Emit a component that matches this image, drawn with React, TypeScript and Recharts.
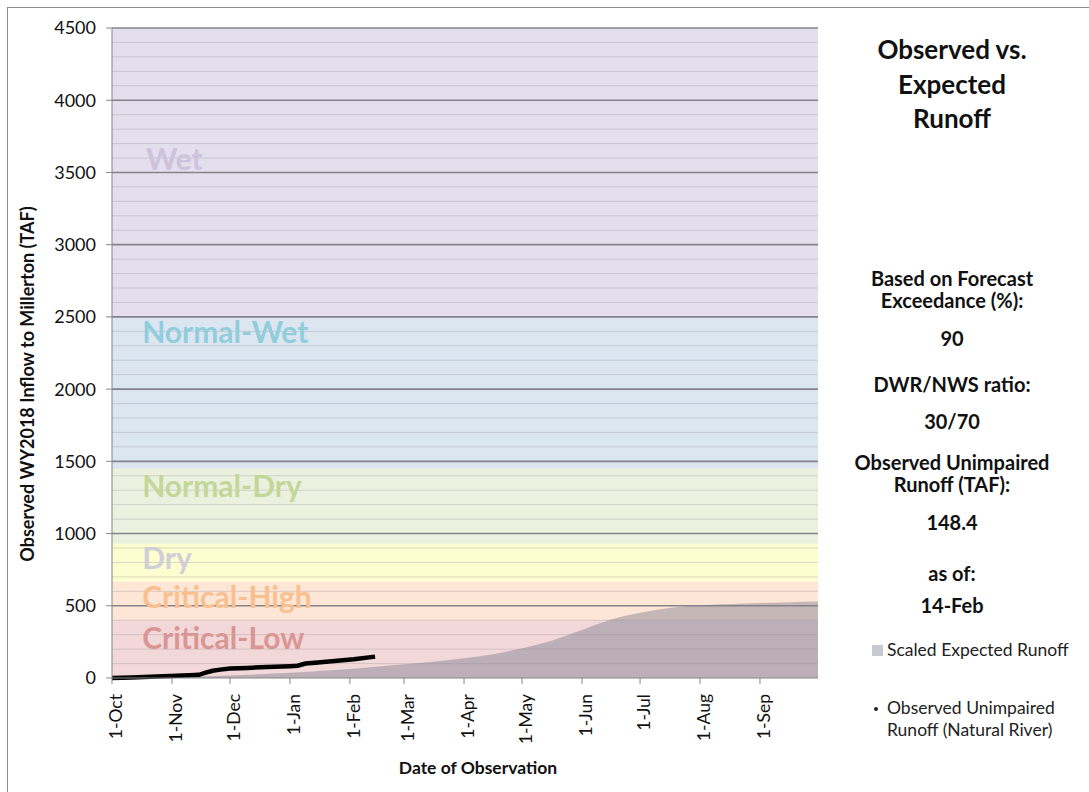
import React from 'react';
import { ComposedChart, Area, Line, XAxis, YAxis, ReferenceLine, ReferenceDot } from 'recharts';

// day index counted from 1-Oct of the water year
const monthDays = [0, 31, 61, 92, 123, 151, 182, 212, 243, 273, 304, 335];
const monthLabels = ['1-Oct', '1-Nov', '1-Dec', '1-Jan', '1-Feb', '1-Mar', '1-Apr', '1-May', '1-Jun', '1-Jul', '1-Aug', '1-Sep'];

const yTicks = [0, 500, 1000, 1500, 2000, 2500, 3000, 3500, 4000, 4500];

const observedDays = [0, 10, 20, 30, 40, 45, 48, 52, 56, 61, 70, 80, 92, 96, 100, 105, 115, 125, 136];
const observedValues = [0, 4, 9, 14, 19, 22, 35, 50, 58, 65, 70, 76, 82, 85, 100, 106, 117, 130, 148];

const expectedDays = [0, 15, 31, 46, 61, 76, 92, 107, 123, 138, 151, 166, 182, 197, 212, 228, 243, 258, 273, 289, 304, 320, 335, 350, 365];
const expectedValues = [0, 2, 6, 11, 18, 26, 37, 49, 62, 80, 95, 113, 136, 165, 206, 262, 332, 405, 452, 487, 504, 513, 519, 525, 530];

// water year type bands, top of each band (TAF)
const bandNames = ['Wet', 'Normal-Wet', 'Normal-Dry', 'Dry', 'Critical-High', 'Critical-Low'];
const bandTops = [4500, 2500, 1450, 930, 667, 400];

const bandFills = ['#e4dfec', '#dce6f1', '#ebf1de', '#fdfdd0', '#fde6d6', '#f2d8d8'];
const bandTextColors = ['#cdc3dc', '#92cddc', '#c4d79b', '#cfcfd6', '#fabf8f', '#da9694'];
const bandLabelY = [3590, 2390, 1330, 830, 555, 277];

const days = Array.from(new Set([...observedDays, ...expectedDays])).sort((a, b) => a - b);
const data = days.map((d) => {
  const row: Record<string, number | undefined> = { day: d };
  const oi = observedDays.indexOf(d);
  const ei = expectedDays.indexOf(d);
  row.observed = oi >= 0 ? observedValues[oi] : undefined;
  row.expected = ei >= 0 ? expectedValues[ei] : undefined;
  bandTops.forEach((t, i) => {
    row['band' + i] = t;
  });
  return row;
});

const minorLines: number[] = [];
for (let v = 100; v < 4500; v += 100) if (v % 500 !== 0) minorLines.push(v);

const font = 'Lato, "Open Sans", sans-serif';

const MonthTick = (props: any) => {
  const { x, y, payload } = props;
  const label = monthLabels[monthDays.indexOf(payload.value)];
  return (
    <g transform={`translate(${x + 4},${y + 8}) rotate(-90)`}>
      <text x={0} y={0} dy="0.35em" textAnchor="end" fill="#111" fontSize={17.5} fontFamily={font}>
        {label}
      </text>
    </g>
  );
};

const sideText: React.CSSProperties = {
  position: 'absolute',
  left: 835,
  width: 234,
  textAlign: 'center',
  fontFamily: font,
  fontWeight: 700,
  fontSize: 20,
  color: '#111',
  lineHeight: '22px',
};

export default function App() {
  return (
    <div style={{ position: 'absolute', left: 0, top: 0, width: 1089, height: 792, background: '#fff', overflow: 'hidden' }}>
      <div style={{ position: 'absolute', left: 7, top: 7, width: 1100, height: 800, border: '1px solid #8c8c8c' }} />
      <ComposedChart
        width={1089}
        height={792}
        data={data}
        margin={{ top: 28, right: 271, bottom: 54, left: 52 }}
        style={{ position: 'absolute', left: 0, top: 0 }}
      >
        <XAxis
          dataKey="day"
          type="number"
          domain={[0, 365]}
          ticks={monthDays}
          interval={0}
          height={60}
          tick={<MonthTick />}
          tickSize={6}
          stroke="#868686"
          allowDataOverflow
        />
        <YAxis
          type="number"
          domain={[0, 4500]}
          ticks={yTicks}
          interval={0}
          width={60}
          tickSize={6}
          tickMargin={10}
          stroke="#868686"
          tick={{ fill: '#111', fontSize: 18, fontFamily: font }}
        />
        {bandTops.map((t, i) => (
          <Area
            key={bandNames[i]}
            dataKey={'band' + i}
            type="linear"
            stroke="none"
            fill={bandFills[i]}
            fillOpacity={1}
            isAnimationActive={false}
            dot={false}
            activeDot={false}
          />
        ))}
        {minorLines.map((v) => (
          <ReferenceLine key={'m' + v} y={v} stroke="#8a8090" strokeOpacity={0.28} strokeWidth={1} />
        ))}
        {yTicks.slice(1).map((v) => (
          <ReferenceLine key={'M' + v} y={v} stroke="#86828c" strokeWidth={1.6} />
        ))}
        {bandNames.map((n, i) => (
          <ReferenceDot
            key={'l' + n}
            x={i === 0 ? 15 : 13}
            y={bandLabelY[i]}
            r={0}
            fill="none"
            stroke="none"
            label={{
              value: n,
              position: 'right',
              fill: bandTextColors[i],
              fontSize: 30,
              fontWeight: 700,
              fontFamily: font,
            }}
          />
        ))}
        <Area
          dataKey="expected"
          type="monotone"
          stroke="none"
          fill="#75788a"
          fillOpacity={0.42}
          connectNulls
          isAnimationActive={false}
          dot={false}
          activeDot={false}
        />
        <Line
          dataKey="observed"
          type="linear"
          stroke="#000"
          strokeWidth={4.5}
          connectNulls
          dot={false}
          activeDot={false}
          isAnimationActive={false}
        />
      </ComposedChart>

      <div
        style={{
          position: 'absolute',
          left: 27,
          top: 384,
          transform: 'translate(-50%, -50%) rotate(-90deg)',
          whiteSpace: 'nowrap',
          fontFamily: font,
          fontWeight: 700,
          fontSize: 18,
          color: '#111',
        }}
      >
        Observed WY2018 Inflow to Millerton (TAF)
      </div>
      <div
        style={{
          position: 'absolute',
          left: 478,
          top: 767,
          transform: 'translate(-50%, -50%)',
          whiteSpace: 'nowrap',
          fontFamily: font,
          fontWeight: 700,
          fontSize: 17.5,
          color: '#111',
        }}
      >
        Date of Observation
      </div>

      <div style={{ ...sideText, top: 32, fontSize: 26, lineHeight: '34.5px' }}>
        Observed vs.
        <br />
        Expected
        <br />
        Runoff
      </div>
      <div style={{ ...sideText, top: 267 }}>
        Based on Forecast
        <br />
        Exceedance (%):
      </div>
      <div style={{ ...sideText, top: 327 }}>90</div>
      <div style={{ ...sideText, top: 373 }}>DWR/NWS ratio:</div>
      <div style={{ ...sideText, top: 410 }}>30/70</div>
      <div style={{ ...sideText, top: 451 }}>
        Observed Unimpaired
        <br />
        Runoff (TAF):
      </div>
      <div style={{ ...sideText, top: 511 }}>148.4</div>
      <div style={{ ...sideText, top: 557, lineHeight: '32px' }}>
        as of:
        <br />
        14-Feb
      </div>

      <div style={{ position: 'absolute', left: 872, top: 645, width: 11, height: 11, background: '#c8c9cf' }} />
      <div style={{ position: 'absolute', left: 887, top: 639, fontFamily: font, fontSize: 17.5, color: '#222', whiteSpace: 'nowrap' }}>
        Scaled Expected Runoff
      </div>
      <div style={{ position: 'absolute', left: 874, top: 707, width: 4, height: 4, borderRadius: 2, background: '#222' }} />
      <div style={{ position: 'absolute', left: 887, top: 697, fontFamily: font, fontSize: 17.5, color: '#222', lineHeight: '22px', whiteSpace: 'nowrap' }}>
        Observed Unimpaired
        <br />
        Runoff (Natural River)
      </div>
    </div>
  );
}
